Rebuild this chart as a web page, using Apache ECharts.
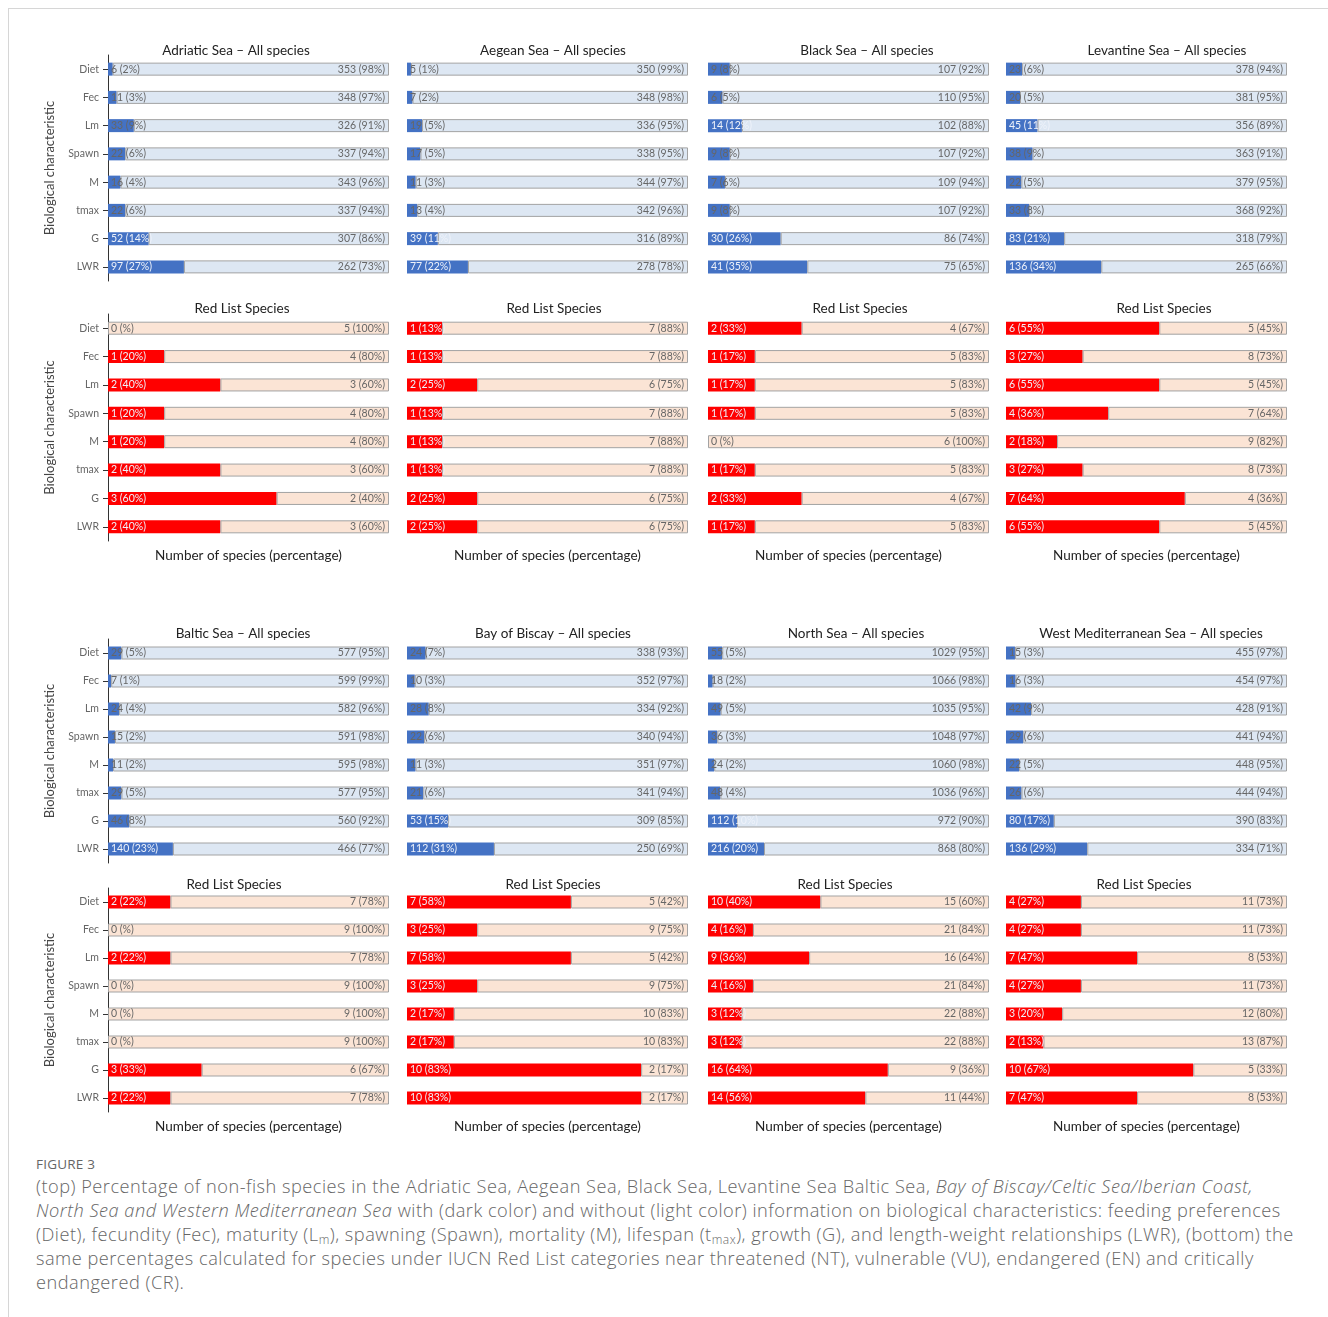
<!DOCTYPE html>
<html>
<head>
<meta charset="utf-8">
<script src="https://cdn.jsdelivr.net/npm/echarts@6/dist/echarts.min.js"></script>
<style>
  html, body { margin: 0; padding: 0; background: #fff; }
  #frame { position: absolute; left: 8px; top: 8px; width: 1320px; height: 1309px;
           border-top: 1px solid #d6d6d6; border-left: 1px solid #d6d6d6; }
  #chart { position: absolute; left: 0; top: 0; width: 1328px; height: 1150px; }
  #caption { position: absolute; left: 36px; top: 1154px; font-family: "Open Sans", sans-serif;
             color: #666; white-space: nowrap; }
  #caption .fig { font-size: 13.5px; letter-spacing: 0.2px; color: #666; line-height: 20px; }
  #caption .txt { font-size: 18.2px; line-height: 24px; font-weight: 300; letter-spacing: 0.5px; }
  #caption sub { font-size: 12px; vertical-align: -3px; line-height: 0; }
</style>
</head>
<body>
<div id="frame"></div>
<div id="chart"></div>
<div id="caption">
  <div class="fig">FIGURE 3</div>
  <div class="txt">
    (top) Percentage of non-fish species in the Adriatic Sea, Aegean Sea, Black Sea, Levantine Sea Baltic Sea, <i>Bay of Biscay/Celtic Sea/Iberian Coast,</i><br>
    <i>North Sea and Western Mediterranean Sea</i> with (dark color) and without (light color) information on biological characteristics: feeding preferences<br>
    (Diet), fecundity (Fec), maturity (L<sub>m</sub>), spawning (Spawn), mortality (M), lifespan (t<sub>max</sub>), growth (G), and length-weight relationships (LWR), (bottom) the<br>
    same percentages calculated for species under IUCN Red List categories near threatened (NT), vulnerable (VU), endangered (EN) and critically<br>
    endangered (CR).
  </div>
</div>
<script>
// ---------------- DATA ----------------
const categories = ['Diet', 'Fec', 'Lm', 'Spawn', 'M', 'tmax', 'G', 'LWR'];

// Top block, all species: counts with / without information
const adriaticAllWith      = [6, 11, 33, 22, 16, 22, 52, 97];
const adriaticAllWithout   = [353, 348, 326, 337, 343, 337, 307, 262];
const aegeanAllWith        = [5, 7, 19, 17, 11, 13, 39, 77];
const aegeanAllWithout     = [350, 348, 336, 338, 344, 342, 316, 278];
const blackAllWith         = [9, 6, 14, 9, 7, 9, 30, 41];
const blackAllWithout      = [107, 110, 102, 107, 109, 107, 86, 75];
const levantineAllWith     = [23, 20, 45, 38, 22, 33, 83, 136];
const levantineAllWithout  = [378, 381, 356, 363, 379, 368, 318, 265];

// Top block, Red List species
const adriaticRedWith      = [0, 1, 2, 1, 1, 2, 3, 2];
const adriaticRedWithout   = [5, 4, 3, 4, 4, 3, 2, 3];
const aegeanRedWith        = [1, 1, 2, 1, 1, 1, 2, 2];
const aegeanRedWithout     = [7, 7, 6, 7, 7, 7, 6, 6];
const blackRedWith         = [2, 1, 1, 1, 0, 1, 2, 1];
const blackRedWithout      = [4, 5, 5, 5, 6, 5, 4, 5];
const levantineRedWith     = [6, 3, 6, 4, 2, 3, 7, 6];
const levantineRedWithout  = [5, 8, 5, 7, 9, 8, 4, 5];

// Bottom block, all species
const balticAllWith        = [29, 7, 24, 15, 11, 29, 46, 140];
const balticAllWithout     = [577, 599, 582, 591, 595, 577, 560, 466];
const biscayAllWith        = [24, 10, 28, 22, 11, 21, 53, 112];
const biscayAllWithout     = [338, 352, 334, 340, 351, 341, 309, 250];
const northAllWith         = [55, 18, 49, 36, 24, 48, 112, 216];
const northAllWithout      = [1029, 1066, 1035, 1048, 1060, 1036, 972, 868];
const westMedAllWith       = [15, 16, 42, 29, 22, 26, 80, 136];
const westMedAllWithout    = [455, 454, 428, 441, 448, 444, 390, 334];

// Bottom block, Red List species
const balticRedWith        = [2, 0, 2, 0, 0, 0, 3, 2];
const balticRedWithout     = [7, 9, 7, 9, 9, 9, 6, 7];
const biscayRedWith        = [7, 3, 7, 3, 2, 2, 10, 10];
const biscayRedWithout     = [5, 9, 5, 9, 10, 10, 2, 2];
const northRedWith         = [10, 4, 9, 4, 3, 3, 16, 14];
const northRedWithout      = [15, 21, 16, 21, 22, 22, 9, 11];
const westMedRedWith       = [4, 4, 7, 4, 3, 2, 10, 7];
const westMedRedWithout    = [11, 11, 8, 11, 12, 13, 5, 8];

const titlesAll = ['Adriatic Sea \u2013 All species', 'Aegean Sea \u2013 All species',
                   'Black Sea \u2013 All species', 'Levantine Sea \u2013 All species',
                   'Baltic Sea \u2013 All species', 'Bay of Biscay \u2013 All species',
                   'North Sea \u2013 All species', 'West Mediterranean Sea \u2013 All species'];
const titleRed = 'Red List Species';
const yAxisTitle = 'Biological characteristic';
const xAxisTitle = 'Number of species (percentage)';

// panel list: [with, without, kind, title]
const panels = [
  [adriaticAllWith, adriaticAllWithout, 'all', titlesAll[0]],
  [aegeanAllWith, aegeanAllWithout, 'all', titlesAll[1]],
  [blackAllWith, blackAllWithout, 'all', titlesAll[2]],
  [levantineAllWith, levantineAllWithout, 'all', titlesAll[3]],
  [adriaticRedWith, adriaticRedWithout, 'red', titleRed],
  [aegeanRedWith, aegeanRedWithout, 'red', titleRed],
  [blackRedWith, blackRedWithout, 'red', titleRed],
  [levantineRedWith, levantineRedWithout, 'red', titleRed],
  [balticAllWith, balticAllWithout, 'all', titlesAll[4]],
  [biscayAllWith, biscayAllWithout, 'all', titlesAll[5]],
  [northAllWith, northAllWithout, 'all', titlesAll[6]],
  [westMedAllWith, westMedAllWithout, 'all', titlesAll[7]],
  [balticRedWith, balticRedWithout, 'red', titleRed],
  [biscayRedWith, biscayRedWithout, 'red', titleRed],
  [northRedWith, northRedWithout, 'red', titleRed],
  [westMedRedWith, westMedRedWithout, 'red', titleRed]
];

// ---------------- LAYOUT / STYLE ----------------
const colLeft = [108, 407, 708, 1006];
const colWidth = 281;
const rowTop = [55, 314, 639, 888];
const rowHeight = [226, 227, 224, 224];
const titleY = [51, 309, 634, 885];
const titleX = [
  [236, 553, 867, 1167],
  [242, 554, 860, 1164],
  [243, 553, 856, 1151],
  [234, 553, 845, 1144]
];
const colors = {
  all: { dark: '#4472c4', light: '#dde7f3' },
  red: { dark: '#ff0000', light: '#fbe4d5' }
};
const FONT = 'Lato, "Open Sans", sans-serif';

const grids = [], xAxes = [], yAxes = [], series = [], graphics = [];

function pct(n, total) { return total ? n / total * 100 : 0; }
function lbl(n, total) { return n === 0 ? '0 (%)' : n + ' (' + Math.round(pct(n, total)) + '%)'; }

panels.forEach((p, i) => {
  const row = Math.floor(i / 4), col = i % 4;
  const [withArr, withoutArr, kind, title] = p;
  const totals = withArr.map((v, k) => v + withoutArr[k]);
  grids.push({ left: colLeft[col], top: rowTop[row], width: colWidth, height: rowHeight[row] });
  xAxes.push({
    gridIndex: i, type: 'value', min: 0, max: 100,
    axisLine: { show: false }, axisTick: { show: false }, axisLabel: { show: false },
    splitLine: { show: false },
    name: kind === 'red' ? xAxisTitle : '', nameLocation: 'middle', nameGap: 8,
    nameTextStyle: { fontFamily: FONT, fontSize: 13.5, color: '#222', verticalAlign: 'top' }
  });
  const first = col === 0;
  yAxes.push({
    gridIndex: i, type: 'category', data: categories, inverse: true,
    axisLine: { show: first, lineStyle: { color: '#333', width: 1 } },
    axisTick: { show: first, alignWithLabel: true, length: 5, lineStyle: { color: '#333' } },
    axisLabel: { show: first, fontFamily: FONT, fontSize: 10.5, color: '#666', margin: 9 },
    name: first ? yAxisTitle : '', nameLocation: 'middle', nameGap: 52, nameRotate: 90,
    nameTextStyle: { fontFamily: FONT, fontSize: 13, color: '#444' }
  });
  const c = colors[kind];
  series.push({
    type: 'bar', xAxisIndex: i, yAxisIndex: i, stack: 's' + i, barWidth: 13,
    itemStyle: { color: c.dark },
    data: withArr.map((v, k) => {
      const pv = pct(v, totals[k]);
      return { value: pv, label: { color: pv >= 10 ? '#eef2fa' : '#666' } };
    }),
    label: {
      show: true, position: 'insideLeft', distance: 3, fontFamily: FONT, fontSize: 10.5,
      formatter: (prm) => lbl(withArr[prm.dataIndex], totals[prm.dataIndex])
    },
    silent: true, animation: false
  });
  series.push({
    type: 'bar', xAxisIndex: i, yAxisIndex: i, stack: 's' + i, barWidth: 13,
    itemStyle: { color: c.light, borderColor: '#a3a3a3', borderWidth: 1 },
    data: withoutArr.map((v, k) => pct(v, totals[k])),
    label: {
      show: true, position: 'insideRight', distance: 4, fontFamily: FONT, fontSize: 10.5, color: '#666',
      formatter: (prm) => lbl(withoutArr[prm.dataIndex], totals[prm.dataIndex])
    },
    silent: true, animation: false
  });
  graphics.push({
    type: 'text', x: titleX[row][col], y: titleY[row],
    style: { text: title, textAlign: 'center', textVerticalAlign: 'middle',
             fontFamily: FONT, fontSize: 13.5, fill: '#222' }
  });
});

const chart = echarts.init(document.getElementById('chart'), null, { renderer: 'canvas' });
chart.setOption({
  animation: false,
  grid: grids, xAxis: xAxes, yAxis: yAxes, series: series, graphic: graphics
});
</script>
</body>
</html>
